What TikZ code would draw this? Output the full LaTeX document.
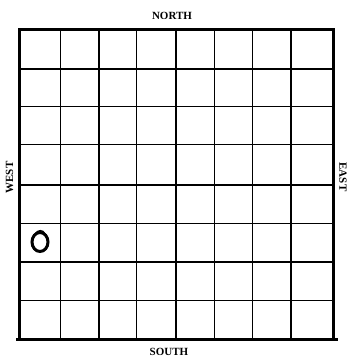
\documentclass[tikz,border=0pt]{standalone}
\usepackage{fontspec}
\setmainfont{Liberation Serif}
\begin{document}
\begin{tikzpicture}[x=1pt,y=-1pt,
  gridline/.style={line width=1.3pt,black},
  midline/.style={line width=2.2pt,black},
  frame/.style={line width=3pt,black,line cap=rect},
  dirlabel/.style={font=\bfseries\fontsize{11}{12}\selectfont,inner sep=0pt}]
\useasboundingbox (0,0) rectangle (350,357);
\fill[white] (0,0) rectangle (350,357);
% thin grid lines
\foreach \x in {60.7,99,136.7,214.3,252.3,291}
  \draw[gridline] (\x,29.5) -- (\x,339);
\foreach \y in {69,106.7,144.3,223.7,262,300.3}
  \draw[gridline] (19.5,\y) -- (333,\y);
% centre lines
\draw[midline] (176,29.5) -- (176,339);
\draw[midline] (19.5,185.3) -- (333,185.3);
% frame
\draw[frame] (19.5,29.5) -- (333,29.5) -- (333,339);
\draw[frame] (19.5,29.5) -- (19.5,339);
\draw[frame] (17,339) -- (336.5,339);
% labels
\node[dirlabel] (north) at (172,15.5) {NORTH};
\node[dirlabel] (south) at (169,351.5) {SOUTH};
\node[dirlabel,rotate=90] (west) at (9.5,177.5) {WEST};
\node[dirlabel,rotate=-90] (east) at (343,177) {EAST};
% hand-drawn marker
\draw[line width=3pt] (40,242) ellipse [x radius=8, y radius=9.5];
\draw[line width=1.4pt] (35,234) .. controls (38,229.5) and (43,229.5) .. (45,234);
\end{tikzpicture}
\end{document}
